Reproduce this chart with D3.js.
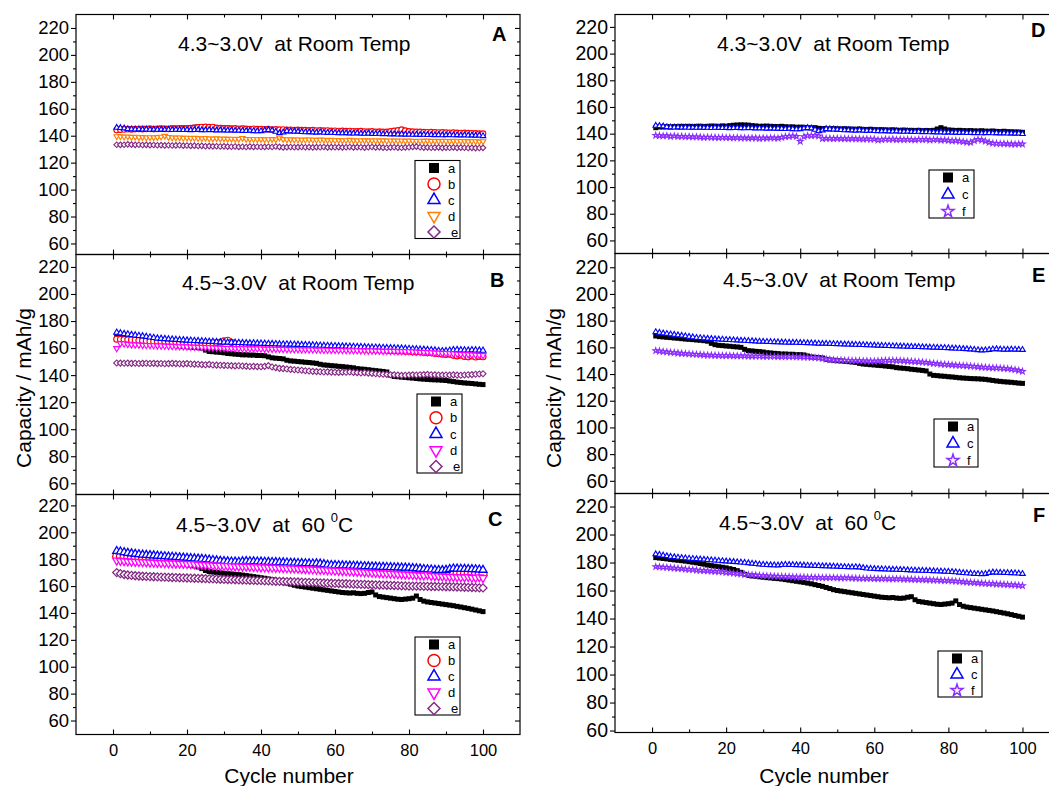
<!DOCTYPE html>
<meta charset="utf-8">
<script src="https://d3js.org/d3.v7.min.js"></script>
<style>
  body { margin: 0; background: #fff; }
  text { font-family: Arial, "Liberation Sans", sans-serif; white-space: pre; }
</style>
<div id="chart"></div>
<script>
// ---- data: discharge capacity (mAh/g) for cycles 1..100 ----
// 4.3~3.0V at room temperature
const a_43RT = [144.5,145,145,145.2,145,145.3,145.2,145.5,145.4,145.5,
  145.3,145.5,145.6,145.4,145.5,145.7,145.6,145.5,145.8,145.6,
  146,146.3,146.5,146.6,146.5,146.4,146,145.8,145.5,145.6,
  145.7,145.5,145.4,145.3,145.5,145.2,145,145.1,144.8,144.9,
  144.7,144.5,144.3,144.5,144,143.8,143.6,143.5,143.8,143.6,
  143.5,143.7,143.5,143.4,143.3,143.5,143.2,143.1,143.3,143,
  142.9,143,142.8,142.7,142.9,142.6,142.5,142.7,142.4,142.5,
  142.3,142.5,142.2,142.4,142.3,142.5,143.5,144.5,143.5,142.8,
  142.6,142.4,142.5,142.3,142.2,142.3,142.1,142,142.2,141.9,
  141.8,142,141.7,141.6,141.8,141.5,141.4,141.3,141.2,141];
const b_43RT = [144.2,144.5,144.6,144.8,144.7,144.9,145,144.8,145,145.1,
  144.9,145,145.2,145.1,145,145.3,145.2,145.4,145.2,145.5,
  145.6,145.8,146.2,146.5,146.6,146.4,146.5,145.8,145.6,145.4,
  145.5,145.3,145.4,145.2,145.3,145.1,145,145.2,144.9,145,
  144.8,144.9,144.6,144.7,144.5,144.6,144.3,144.4,144.2,144.3,
  144.1,144.2,144,144.1,143.9,144,143.8,143.9,143.6,143.7,
  143.5,143.6,143.4,143.5,143.3,143.2,143.4,143.1,143,143.2,
  142.9,143,142.8,142.9,143.2,143.6,144,144.5,143.8,143.2,
  143,142.8,142.9,142.7,142.6,142.7,142.5,142.4,142.5,142.3,
  142.2,142.3,142.1,142,142.1,141.9,141.8,141.7,141.6,141.5];
const c_43RT = [146,145.8,145.5,145,144.8,144.7,144.8,144.6,144.7,144.5,
  144.6,144.5,144.6,144.4,144.5,144.3,144.5,144.4,144.3,144.4,
  144.2,144.3,144.4,144.2,144.1,144.3,144.2,144,144.1,144,
  143.9,144,143.8,143.9,143.7,143.6,143.8,143.5,143.4,143.5,
  144,144.3,144,143,142,142.5,143.6,143.4,143.2,143.1,
  142.8,142.6,142.7,142.5,142.4,142.6,142.3,142.2,142.3,142.1,
  142,141.9,142,141.8,141.7,141.9,141.6,141.5,141.7,141.4,
  141.3,141.5,141.2,141.3,141.1,141.2,141,141.1,140.9,141,
  140.8,140.9,140.7,140.8,140.6,140.7,140.5,140.6,140.4,140.5,
  140.6,140.4,140.5,140.3,140.4,140.2,140.3,140.1,140.2,139.8];
const d_43RT = [139.5,139.4,139.2,139.3,139,139.1,138.8,138.9,138.6,138.8,
  138.7,138.9,139.2,139.8,139,138.6,138.5,138.6,138.3,138.4,
  138.2,138.3,138.1,138,138.2,137.9,137.8,138,137.7,137.8,
  137.6,137.7,137.5,137.6,138.2,137.5,137.4,137.5,137.3,137.4,
  137.2,137.3,137.4,137.2,138.4,137.4,137.1,137.2,137,137.1,
  136.9,137,137.1,136.9,136.8,137,136.9,136.7,136.8,136.6,
  136.7,136.5,136.6,136.8,136.5,136.4,136.6,136.5,136.3,136.5,
  136.4,136.3,136.5,136.2,136.4,136.3,136.2,136.4,136.1,136.3,
  136.2,136,136.2,136.1,136.3,136,136.1,135.9,136.1,136,
  135.9,136.1,135.8,136,135.9,135.7,135.9,135.8,135.6,135.8];
const e_43RT = [133.3,133.2,133.3,133.6,133.4,133.2,133.3,133.1,133.2,133,
  133.1,132.9,133,132.8,132.9,132.7,132.8,132.9,132.6,132.7,
  132.5,132.6,132.4,132.5,132.2,132.3,132.1,132.2,132,132.1,
  131.9,131.8,132,131.7,131.8,131.6,131.9,131.7,131.8,131.6,
  131.7,131.8,131.6,132,131.7,131.3,131.5,131.6,131.4,131.5,
  131.6,131.4,131.5,131.3,131.5,131.4,131.6,131.3,131.5,131.4,
  131.5,131.3,131.4,131.6,131.3,131.5,131.4,131.2,131.4,131.6,
  131.3,131.5,131.2,131.1,131.3,131.4,131.2,131.1,131.3,131.4,
  131.7,131.9,131.4,131.2,131.3,131.1,131.2,131.3,131,131.2,
  131.1,131.3,131,131.2,131.1,130.9,131,130.8,130.9,131];
const f_43RT = [138.7,138.5,138.3,138.4,138,138.2,137.9,138,137.7,137.8,
  137.5,137.6,137.4,137.2,137.3,137.1,137.2,137,137.1,136.9,
  137,136.8,136.9,136.7,136.8,136.6,136.8,136.7,136.5,136.7,
  136.6,136.8,136.7,136.6,137.2,137.8,138,138.2,137.9,134.2,
  137.8,138.4,138.5,138.6,138.2,136.3,136.4,136.5,136.3,136.4,
  136.2,136.3,136.1,136.2,136,136.1,135.9,136,135.8,135.9,
  135.2,135.4,135.8,135.6,135.9,135.5,135.7,135.4,135.6,135.5,
  135.3,135.6,135.4,135.7,135.2,135.5,135.4,135.1,135.3,135,
  134.6,134.8,134.3,134,133.6,133.5,134.8,135.6,135.2,134.4,
  133.5,132.8,132.6,132.4,132.5,132.3,132.2,132.1,132.3,132.2];

// 4.5~3.0V at room temperature
const a_45RT = [168.5,168,167.8,167.5,167.3,167,166.8,166.5,166.2,166,
  165.8,165.5,165.3,165,164.6,163,162,161.5,161.3,161,
  160.8,160.5,160.3,160,158.5,157.5,157.3,157,156.8,156.5,
  156,155.8,155.5,155.3,155,155,154.8,154.8,154.5,154.5,
  154.3,153.5,152.8,152.5,152.3,152,151,150.5,150.3,150,
  149.8,149.5,149.3,149,148.7,148,147.5,147.3,147,146.8,
  146.5,146.3,146,145.7,145.4,144.8,144.5,144.3,144,143.6,
  143.3,143,142.7,142.3,140,139,138.8,138.5,138.3,138,
  137.8,137.5,137.2,137,136.8,136.6,136.5,136.4,136.2,136,
  135.6,135.2,134.8,134.5,134.2,134,133.8,133.5,133.2,133];
const b_45RT = [166.5,166.3,166.2,166.1,166,165.8,165.6,165.4,165.2,165,
  164.9,164.8,164.7,164.6,164.5,164.4,164.3,164.2,164.1,164,
  163.9,163.8,163.7,163.6,163.5,163.6,163.8,164,164.3,165.3,
  165.8,164.2,163.2,162.9,162.7,162.6,162.5,162.3,162.2,162,
  161.9,161.8,161.7,161.6,161.5,161.4,161.3,161.2,161.1,161,
  160.9,160.8,160.7,160.6,160.5,160.4,160.3,160.2,160.1,160,
  159.9,159.8,159.7,159.6,159.5,159.4,159.3,159.2,159.1,159,
  158.8,158.6,158.4,158.3,158.1,158,157.9,157.8,157.6,157.5,
  157.2,157,157.3,156.8,156.5,156.7,156,155.8,155.5,155.3,
  155.5,154.6,154.2,154.8,153.8,153.5,154.2,153.4,153.8,153.6];
const c_45RT = [171.5,171,170.5,170.2,169.8,169.5,169.1,168.8,168.4,168,
  167.6,167.2,167,166.8,166.6,166.4,166.2,166,165.9,165.7,
  165.6,165.4,165.3,165.1,165,164.8,164.7,164.5,164.4,164.3,
  164.2,164.1,164,163.9,163.8,163.7,163.6,163.6,163.5,163.4,
  163.3,163.2,163.1,163,162.9,162.8,162.8,162.7,162.6,162.5,
  162.4,162.3,162.2,162.1,162,161.9,161.8,161.7,161.6,161.5,
  161.4,161.3,161.2,161.1,161,160.9,160.8,160.7,160.6,160.5,
  160.4,160.3,160.2,160.1,160,159.9,159.8,159.7,159.6,159.5,
  159.3,159.2,159,158.9,158.7,158.5,158.3,158,157.8,157.9,
  158.2,158.6,158.7,158.5,158.4,158.3,158.5,158.4,158.3,158.2];
const d_45RT = [159.8,163.5,163.2,162.9,162.6,162.5,162.4,162.2,162.1,162,
  161.9,161.8,161.7,161.6,161.5,161.4,161.3,161.2,161.1,161,
  160.9,160.8,160.7,160.6,160.5,160.4,160.3,160.2,160.1,160,
  159.9,159.9,159.8,159.8,159.7,159.7,159.6,159.6,159.5,159.5,
  159.4,159.4,159.3,159.3,159.2,159.2,159.1,159.1,159,159,
  158.9,158.9,158.8,158.8,158.7,158.7,158.6,158.6,158.5,158.5,
  158.4,158.4,158.3,158.3,158.2,158.2,158.1,158.1,158,158,
  157.9,157.9,157.8,157.8,157.7,157.7,157.6,157.6,157.5,157.5,
  157.3,157.2,157,156.9,156.8,156.7,156.5,156.4,156.3,156.2,
  156,155.8,155.7,155.5,155.4,155.3,155.1,155,154.8,154.6];
const e_45RT = [149,148.9,148.8,148.9,148.7,148.8,148.6,148.7,148.8,148.6,
  148.7,148.5,148.6,148.4,148.5,148.7,148.5,148.4,148.3,148.5,
  148.2,148.1,148,147.8,147.7,147.9,147.5,147.4,147.3,147.2,
  147.1,147,146.8,146.9,146.7,146.6,146.4,146.5,146.3,146.2,
  146.5,147,146,145.5,145,144.8,144.5,144.2,144,143.8,
  143.6,143.2,143,142.8,142.6,142.5,142.3,142.4,142.2,142.1,
  142,142.2,142.1,142.3,142,141.8,141.6,141.8,141.5,141.3,
  141,140.8,140.6,140.5,140.3,140.2,140,139.8,139.9,140,
  140.2,140.1,140.3,140.4,140.5,140.3,140.2,140.1,140,140.1,
  140,140.2,140,139.9,140.1,140.3,140.4,140.6,140.8,141];
const f_45RT = [157.5,157.2,156.8,156.5,156.2,156,155.7,155.5,155.2,155,
  154.8,154.6,154.5,154.3,154.2,154.1,154,153.9,153.8,153.8,
  153.7,153.6,153.6,153.5,153.5,153.4,153.4,153.3,153.3,153.2,
  153.2,153.1,153.1,153,153,153,152.9,152.9,152.8,152.8,
  152.7,152.6,152.4,152.2,152,151.6,151.2,150.8,150.5,150.4,
  150.3,150.2,150.1,150,150,149.9,149.8,149.8,149.7,149.6,
  149.8,150,150.1,150.2,150.1,150,149.9,149.8,149.7,149.5,
  149.3,149.1,148.9,148.6,148.3,148,147.7,147.4,147.2,147,
  146.8,146.6,146.4,146.2,146,145.8,145.6,145.4,145.2,145,
  144.8,144.6,144.5,144.3,144.2,144,143.6,143.2,142.6,142];

// 4.5~3.0V at 60 C
const a_60C = [183.5,183.2,182.9,182.6,182.2,181.9,181.6,181.3,181,180.6,
  180.2,179.8,179.3,178.8,178.2,177.8,177.4,177,176.6,176.2,
  175.6,175,174.2,173,171.6,170.8,170.4,170.2,169.8,169.5,
  169.2,169,168.7,168.5,168.2,167.8,167.4,167,166.6,166.2,
  165.8,165.3,164.8,164.2,163.6,163,162.2,161.4,160.6,160,
  159.6,159.2,158.8,158.4,158,157.6,157.2,156.8,156.4,156,
  155.6,155.2,155,154.8,155,154.6,154.4,154.6,155.2,155.6,
  153.4,152.2,151.8,151.4,151,150.6,150.2,150,150.3,150.6,
  151,152.6,150,148.8,148.2,147.8,147.4,147,146.6,146.2,
  145.8,145.4,144.9,144.4,143.9,143.4,142.8,142.2,141.6,141];
const b_60C = [182,181.7,181.4,181.2,181,180.8,180.6,180.4,180.2,180,
  179.9,179.8,179.6,179.5,179.4,179.2,179,178.9,178.7,178.5,
  178.4,178.2,178.1,177.9,177.8,177.6,177.5,177.3,177.2,177,
  176.9,176.7,176.6,176.4,176.3,176.1,176,175.8,175.7,175.5,
  175.4,175.2,175.1,174.9,174.8,174.6,174.5,174.3,174.2,174,
  173.9,173.8,173.7,173.6,173.5,173.4,173.3,173.2,173.1,173,
  172.8,172.7,172.5,172.4,172.2,172.1,171.9,171.8,171.6,171.5,
  171.4,171.3,171.2,171.1,171,170.9,170.8,170.7,170.6,170.5,
  170.4,170.3,170.2,170.1,170,169.9,169.8,169.7,169.6,169.5,
  169.5,169.4,169.4,169.3,169.3,169.2,169.2,169.1,169.1,169];
const c_60C = [186,185.6,185.1,184.6,184.2,183.9,183.6,183.3,183.1,182.9,
  182.7,182.5,182.3,182.1,181.9,181.7,181.5,181.3,181.1,180.9,
  180.7,180.5,180.3,180.1,179.9,179.6,179.3,179,178.7,178.5,
  178.3,178.2,178.1,178,178.3,178.5,178.4,178.3,178.2,178.1,
  178,177.9,177.8,177.7,177.6,177.5,177.4,177.3,177.2,177.1,
  177,176.9,176.8,176.7,176.8,176.6,176.2,175.8,175.6,175.5,
  175.4,175.3,175.2,175.1,175,174.9,174.8,174.7,174.6,174.5,
  174.4,174.3,174.2,174.1,174,173.9,173.8,173.7,173.6,173.5,
  173.3,173.1,172.9,172.6,172.4,172.2,172,171.9,171.8,172,
  172.6,173,172.9,172.8,172.7,172.6,172.5,172.4,172.2,172];
const d_60C = [179,178.8,178.6,178.4,178.2,178.1,178,177.8,177.7,177.5,
  177.4,177.3,177.2,177.1,177,176.9,176.8,176.7,176.6,176.5,
  176.4,176.2,176,175.8,175.7,175.5,175.4,175.2,175.1,175,
  174.9,174.8,174.7,174.6,174.5,174.5,174.4,174.3,174.1,174,
  173.9,173.8,173.7,173.6,173.5,173.4,173.3,173.2,173.1,173,
  172.8,172.7,172.5,172.4,172.2,172.1,172,171.8,171.7,171.5,
  171.4,171.2,171.1,170.9,170.8,170.6,170.5,170.3,170.2,170,
  169.8,169.7,169.5,169.4,169.2,169.1,168.9,168.8,168.6,168.5,
  168.3,168.2,168,167.9,168.4,167.6,167.5,167.3,167.2,167,
  166.9,166.8,166.7,166.6,166.5,166.8,166.3,166.2,166.6,166];
const e_60C = [170,169.2,168.6,168.2,167.9,167.7,167.5,167.3,167.2,167,
  166.9,166.8,166.7,166.6,166.5,166.4,166.3,166.2,166.1,166,
  165.9,165.8,165.7,165.6,165.5,165.4,165.3,165.2,165.1,165,
  164.9,164.8,164.7,164.6,164.5,164.4,164.3,164.2,164.1,164,
  163.9,163.8,163.7,163.6,163.5,163.4,163.3,163.2,163.1,163,
  162.9,162.8,162.7,162.6,162.5,162.4,162.3,162.2,162.1,162,
  161.9,161.8,161.7,161.6,161.5,161.4,161.3,161.2,161.1,161,
  160.9,160.8,160.7,160.6,160.5,160.4,160.3,160.2,160.1,160,
  160,159.9,159.9,159.8,159.8,159.7,159.7,159.6,159.6,159.5,
  159.5,159.4,159.3,159.2,159.1,159,158.9,158.8,158.7,158.6];
const f_60C = [177,176.8,176.6,176.4,176.2,176,175.8,175.6,175.3,175,
  174.8,174.6,174.4,174.2,174,173.8,173.6,173.4,173.2,173,
  172.7,172.4,172.1,171.8,171.5,171.3,171.1,170.9,170.7,170.5,
  170.4,170.3,170.2,170.1,170,169.9,169.8,169.7,169.6,169.5,
  169.5,169.4,169.4,169.3,169.3,169.2,169.2,169.1,169.1,169,
  169,168.9,168.9,168.8,168.8,168.7,168.7,168.6,168.6,168.5,
  168.5,168.4,168.4,168.3,168.3,168.2,168.2,168.1,168.1,168,
  167.9,167.8,167.7,167.6,167.5,167.4,167.3,167.2,167.1,167,
  166.8,166.6,166.4,166.2,166,165.8,165.6,165.4,165.2,165,
  164.9,164.8,164.6,164.5,164.3,164.2,164,163.9,163.7,163.5];

const cycles = d3.range(1, 101);
const xTicks = [0, 20, 40, 60, 80, 100];
const xMinor = [10, 30, 50, 70, 90];
const yTicks = [60, 80, 100, 120, 140, 160, 180, 200, 220];
const yMinor = [70, 90, 110, 130, 150, 170, 190, 210];

// marker style per sample
const style = {
  a: {color: "#000000", shape: "square", filled: true},
  b: {color: "#ff0000", shape: "circle"},
  c: {color: "#0000ff", shape: "triangle"},
  d: {color: "#ff00ff", shape: "down"},
  e: {color: "#852a85", shape: "diamond"},
  f: {color: "#8a2cff", shape: "star"}
};

const cols = [
  {x0: 76, x1: 520, pad: 2, fs: 18.5, ylab: 31, xlab: 289},
  {x0: 615, x1: 1059.5, pad: 2, fs: 19.5, ylab: 561, xlab: 824}
];

const panels = [
  {id: "A", col: 0, top: 14.5, bottom: 254.5, dom: [51.8, 230], title: "4.3~3.0V  at Room Temp", tx: 178, ty: 51, lx: 492, ly: 41,
   keys: ["a","b","c","d","e"], data: {a: a_43RT, b: b_43RT, c: c_43RT, d: d_43RT, e: e_43RT}, dColor: "#ff8000", ms: 5.5, sw: 1.15,
   leg: {x: 415, y: 160.5, w: 45, h: 78}},
  {id: "B", col: 0, top: 254.5, bottom: 494.5, dom: [51.7, 229.2], title: "4.5~3.0V  at Room Temp", tx: 182, ty: 290, lx: 490, ly: 287,
   keys: ["a","b","c","d","e"], data: {a: a_45RT, b: b_45RT, c: c_45RT, d: d_45RT, e: e_45RT}, ms: 6, sw: 1.15,
   leg: {x: 417, y: 394, w: 45, h: 79}},
  {id: "C", col: 0, top: 494.5, bottom: 734.5, dom: [49.6, 228.1], title: "4.5~3.0V  at  60 ", sup: true, tx: 176, ty: 532, lx: 488, ly: 526,
   keys: ["a","b","c","d","e"], data: {a: a_60C, b: b_60C, c: c_60C, d: d_60C, e: e_60C}, ms: 8, sw: 1.3,
   leg: {x: 415, y: 637, w: 45, h: 78}, xLabels: true},
  {id: "D", col: 1, top: 14.5, bottom: 253.5, dom: [50.2, 229.3], title: "4.3~3.0V  at Room Temp", tx: 717, ty: 51, lx: 1031, ly: 37,
   keys: ["a","c","f"], data: {a: a_43RT, c: c_43RT, f: f_43RT}, ms: 5.5, sw: 1.15,
   leg: {x: 929, y: 170, w: 45, h: 48}},
  {id: "E", col: 1, top: 253.5, bottom: 493.5, dom: [50.5, 230.3], title: "4.5~3.0V  at Room Temp", tx: 723, ty: 287, lx: 1032, ly: 282,
   keys: ["a","c","f"], data: {a: a_45RT, c: c_45RT, f: f_45RT}, ms: 5.5, sw: 1.15,
   leg: {x: 934, y: 419, w: 44, h: 48}},
  {id: "F", col: 1, top: 493.5, bottom: 732.5, dom: [58.6, 229.3], title: "4.5~3.0V  at  60 ", sup: true, tx: 719, ty: 530, lx: 1033, ly: 522,
   keys: ["a","c","f"], data: {a: a_60C, c: c_60C, f: f_60C}, ms: 5.5, sw: 1.15,
   leg: {x: 938, y: 651, w: 44, h: 46}, xLabels: true}
];

function symPath(shape, w) {
  if (shape === "square") return d3.symbol(d3.symbolSquare, w * w)();
  if (shape === "circle") return d3.symbol(d3.symbolCircle, Math.PI * w * w / 4)();
  if (shape === "triangle" || shape === "down") return d3.symbol(d3.symbolTriangle, w * w * 0.433)();
  if (shape === "diamond") return d3.symbol(d3.symbolSquare, w * w / 2)();
  return d3.symbol(d3.symbolStar, w * w * 0.3)();
}
function symRot(shape) {
  return shape === "down" ? 180 : shape === "diamond" ? 45 : 0;
}

const svg = d3.select("#chart").append("svg")
  .attr("width", 1049)
  .attr("height", 786);

function styleAxis(g, fs) {
  g.select(".domain").remove();
  g.selectAll("line").attr("stroke", "#000").attr("stroke-width", 1.1);
  g.selectAll("text").attr("fill", "#000").style("font-family", "Arial, 'Liberation Sans', sans-serif").style("font-size", fs + "px");
}

panels.forEach(p => {
  const col = cols[p.col];
  const x = d3.scaleLinear().domain([-10, 110]).range([col.x0, col.x1]);
  const y = d3.scaleLinear().domain(p.dom).range([p.bottom, p.top]);
  const g = svg.append("g");

  // markers
  p.keys.forEach(k => {
    const st = style[k];
    const color = (k === "d" && p.dColor) ? p.dColor : st.color;
    const vals = p.data[k];
    const path = symPath(st.shape, st.filled ? 5 : p.ms);
    g.append("g").selectAll("path")
      .data(cycles.map((c, i) => [c, vals[i]]))
      .join("path")
        .attr("transform", d => `translate(${x(d[0])},${y(d[1])}) rotate(${symRot(st.shape)})`)
        .attr("d", path)
        .attr("fill", st.filled ? color : "#fff")
        .attr("stroke", st.filled ? "none" : color)
        .attr("stroke-width", p.sw);
  });

  // frame
  g.append("rect")
    .attr("x", col.x0).attr("y", p.top)
    .attr("width", col.x1 - col.x0).attr("height", p.bottom - p.top)
    .attr("fill", "none").attr("stroke", "#000").attr("stroke-width", 1.2);

  // left axis (outward ticks, labels)
  g.append("g").attr("transform", `translate(${col.x0},0)`)
    .call(d3.axisLeft(y).tickValues(yTicks).tickSize(5).tickPadding(col.pad))
    .call(a => styleAxis(a, col.fs));
  g.append("g").attr("transform", `translate(${col.x0},0)`)
    .call(d3.axisLeft(y).tickValues(yMinor).tickSize(3).tickFormat(""))
    .call(a => styleAxis(a, col.fs));
  // right axis (inward ticks)
  g.append("g").attr("transform", `translate(${col.x1},0)`)
    .call(d3.axisLeft(y).tickValues(yTicks).tickSize(5).tickFormat(""))
    .call(a => styleAxis(a, col.fs));
  g.append("g").attr("transform", `translate(${col.x1},0)`)
    .call(d3.axisLeft(y).tickValues(yMinor).tickSize(3).tickFormat(""))
    .call(a => styleAxis(a, col.fs));
  // top / bottom axes (inward ticks)
  g.append("g").attr("transform", `translate(0,${p.top})`)
    .call(d3.axisBottom(x).tickValues(xTicks).tickSize(5).tickFormat(""))
    .call(a => styleAxis(a, 16));
  g.append("g").attr("transform", `translate(0,${p.top})`)
    .call(d3.axisBottom(x).tickValues(xMinor).tickSize(3).tickFormat(""))
    .call(a => styleAxis(a, 16));
  g.append("g").attr("transform", `translate(0,${p.bottom})`)
    .call(d3.axisTop(x).tickValues(xTicks).tickSize(5).tickFormat(""))
    .call(a => styleAxis(a, 16));
  g.append("g").attr("transform", `translate(0,${p.bottom})`)
    .call(d3.axisTop(x).tickValues(xMinor).tickSize(3).tickFormat(""))
    .call(a => styleAxis(a, 16));

  if (p.xLabels) {
    g.append("g").attr("transform", `translate(0,${p.bottom})`)
      .call(d3.axisBottom(x).tickValues(xTicks).tickSize(0).tickPadding(10))
      .call(a => styleAxis(a, 16.5));
  }

  // title
  const t = g.append("text").attr("x", p.tx).attr("y", p.ty)
    .style("font-size", "21px").text(p.title);
  if (p.sup) {
    t.append("tspan").attr("dy", -10).style("font-size", "13px").text("0");
    t.append("tspan").attr("dy", 10).text("C");
  }
  g.append("text").attr("x", p.lx).attr("y", p.ly)
    .style("font-size", "20px").style("font-weight", "bold").text(p.id);

  // legend
  const L = p.leg;
  const lg = g.append("g");
  lg.append("rect").attr("x", L.x).attr("y", L.y).attr("width", L.w).attr("height", L.h)
    .attr("fill", "#fff").attr("stroke", "#000").attr("stroke-width", 1.1);
  const step = (L.h - 14) / (p.keys.length - 1);
  p.keys.forEach((k, i) => {
    const st = style[k];
    const color = (k === "d" && p.dColor) ? p.dColor : st.color;
    const cy = L.y + 7.5 + i * step;
    lg.append("path")
      .attr("transform", `translate(${L.x + 19},${cy}) rotate(${symRot(st.shape)})`)
      .attr("d", symPath(st.shape, st.filled ? 10 : 12))
      .attr("fill", st.filled ? color : "none")
      .attr("stroke", st.filled ? "none" : color)
      .attr("stroke-width", 1.5);
    lg.append("text").attr("x", L.x + 33 + (k === "e" ? 3 : 0)).attr("y", cy + 4.5)
      .style("font-size", "13px").text(k);
  });
});

// axis titles
cols.forEach(col => {
  svg.append("text")
    .attr("transform", `translate(${col.ylab},388) rotate(-90)`)
    .attr("text-anchor", "middle")
    .style("font-size", "21px")
    .text("Capacity / mAh/g");
  svg.append("text")
    .attr("x", col.xlab).attr("y", 783)
    .attr("text-anchor", "middle")
    .style("font-size", "21px")
    .text("Cycle number");
});
</script>
